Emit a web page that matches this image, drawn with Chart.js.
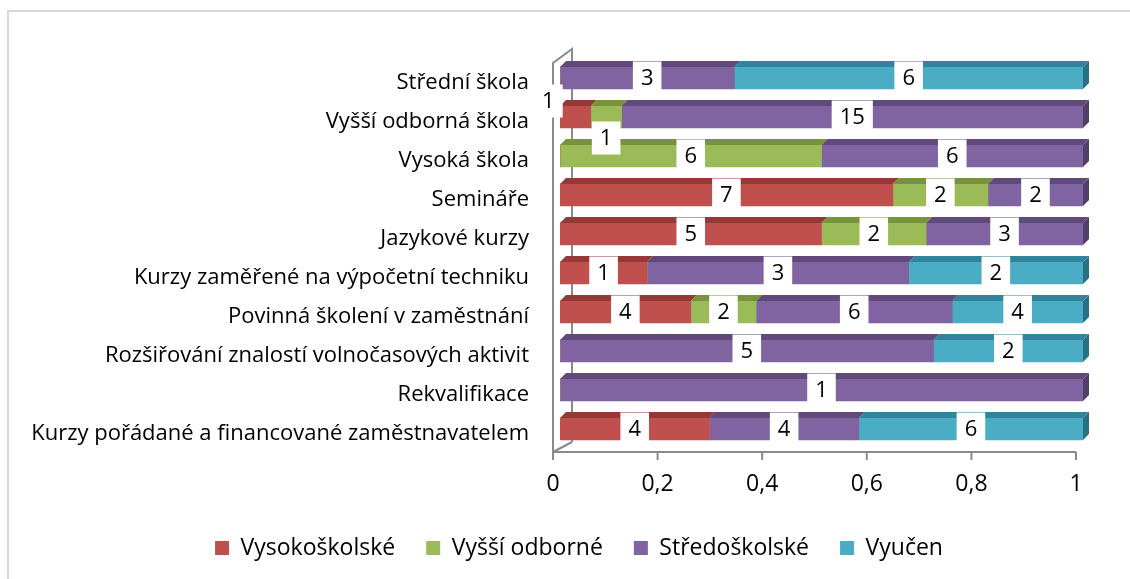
<!DOCTYPE html>
<html>
<head>
<meta charset="utf-8">
<script src="https://cdn.jsdelivr.net/npm/chart.js@4"></script>
<style>
  html, body { margin: 0; padding: 0; background: #fff; }
  #wrap { width: 1130px; height: 579px; }
</style>
</head>
<body>
<div id="wrap"><canvas id="chart-vzdelavani"></canvas></div>
<script>
const categories = [
  'Střední škola',
  'Vyšší odborná škola',
  'Vysoká škola',
  'Semináře',
  'Jazykové kurzy',
  'Kurzy zaměřené na výpočetní techniku',
  'Povinná školení v zaměstnání',
  'Rozšiřování znalostí volnočasových aktivit',
  'Rekvalifikace',
  'Kurzy pořádané a financované zaměstnavatelem'
]
const series_names = ['Vysokoškolské', 'Vyšší odborné', 'Středoškolské', 'Vyučen']
const vysokoskolske = [0, 1, 0, 7, 5, 1, 4, 0, 0, 4]
const vyssi_odborne = [0, 1, 6, 2, 2, 0, 2, 0, 0, 0]
const stredoskolske = [3, 15, 6, 2, 3, 3, 6, 5, 1, 4]
const vyucen = [6, 0, 0, 0, 0, 2, 4, 2, 0, 6]
const x_ticks = [0, 0.2, 0.4, 0.6, 0.8, 1]

const counts = [vysokoskolske, vyssi_odborne, stredoskolske, vyucen]
const front_colors = ['#C0504D', '#9BBB59', '#8064A2', '#4BACC6']
const top_colors = ['#953936', '#77933C', '#604A7B', '#31849B']
const side_colors = ['#7f302e', '#637c31', '#513f69', '#2a7084']

const totals = categories.map((c, i) => counts.reduce((s, arr) => s + arr[i], 0))

const FONT = "'Open Sans', sans-serif"
const DX = 6, DY = 6

// a few labels Excel moved away from their segment
const label_shift = {'0-1': [-27, -16], '1-1': [0, 21]}

const walls = {
  id: 'walls',
  afterLayout(chart) {
    // legend is centred under the whole chart, not under the plot
    chart.legend.left += 35
    chart.legend.right += 35
  },
  beforeDraw(chart) {
    const ctx = chart.ctx
    ctx.save()
    ctx.fillStyle = '#fff'
    ctx.fillRect(0, 0, chart.width, chart.height)
    ctx.strokeStyle = '#d9d9d9'
    ctx.lineWidth = 2
    ctx.strokeRect(8, 11, chart.width + 10, chart.height + 10)
    ctx.restore()
  },
  beforeDatasetsDraw(chart) {
    const ctx = chart.ctx
    const a = chart.chartArea
    const xs = chart.scales.x
    const fx = a.left - 7, bx = a.left + 12
    const fb = a.bottom + 3.5, bb = a.bottom - 6.5
    const ft = a.top + 4.5, bt = a.top - 9.5
    ctx.save()
    ctx.strokeStyle = '#8a8a8a'
    ctx.lineWidth = 2
    ctx.beginPath()
    ctx.moveTo(bx, bb); ctx.lineTo(bx, bt); ctx.lineTo(fx, ft); ctx.lineTo(fx, fb)
    ctx.lineTo(xs.getPixelForValue(1) - 7, fb)
    ctx.moveTo(fx, fb); ctx.lineTo(bx, bb)
    x_ticks.forEach(v => {
      const px = xs.getPixelForValue(v) - 7
      ctx.moveTo(px, fb); ctx.lineTo(px, fb + 8)
    })
    ctx.stroke()
    ctx.restore()
  },
  afterDatasetsDraw(chart) {
    const ctx = chart.ctx
    ctx.save()
    // top and side faces
    chart.data.datasets.forEach((ds, di) => {
      const meta = chart.getDatasetMeta(di)
      meta.data.forEach((el, i) => {
        if (counts[di][i] === 0) return
        const l = Math.min(el.base, el.x), r = Math.max(el.base, el.x)
        const t = el.y - el.height / 2, b = el.y + el.height / 2
        ctx.fillStyle = top_colors[di]
        ctx.beginPath()
        ctx.moveTo(l, t); ctx.lineTo(r, t); ctx.lineTo(r + DX, t - DY); ctx.lineTo(l + DX, t - DY)
        ctx.closePath(); ctx.fill()
        const last = counts.slice(di + 1).every(arr => arr[i] === 0)
        if (last) {
          ctx.fillStyle = side_colors[di]
          ctx.beginPath()
          ctx.moveTo(r, t); ctx.lineTo(r + DX, t - DY); ctx.lineTo(r + DX, b - DY); ctx.lineTo(r, b)
          ctx.closePath(); ctx.fill()
        }
      })
    })
    // value labels on white boxes
    ctx.font = '22px ' + FONT
    ctx.textAlign = 'center'
    ctx.textBaseline = 'middle'
    chart.data.datasets.forEach((ds, di) => {
      const meta = chart.getDatasetMeta(di)
      meta.data.forEach((el, i) => {
        const n = counts[di][i]
        if (n === 0) return
        const shift = label_shift[di + '-' + i] || [0, 0]
        const cx = (el.base + el.x) / 2 + shift[0]
        const cy = el.y + shift[1]
        const txt = String(n)
        const w = ctx.measureText(txt).width + 16
        ctx.fillStyle = '#fff'
        ctx.fillRect(cx - w / 2, cy - 16.5, w, 33)
        ctx.fillStyle = '#000'
        ctx.fillText(txt, cx, cy + 1)
      })
    })
    ctx.restore()
  }
}

const chart = new Chart(document.getElementById('chart-vzdelavani'), {
  type: 'bar',
  data: {
    labels: categories,
    datasets: counts.map((arr, di) => ({
      label: series_names[di],
      data: arr.map((v, i) => v / totals[i]),
      backgroundColor: front_colors[di],
      borderWidth: 0,
      barThickness: 22
    }))
  },
  options: {
    indexAxis: 'y',
    responsive: true,
    maintainAspectRatio: false,
    animation: false,
    layout: {
      padding: {top: 58.5, right: 47, bottom: 9.5, left: 5}
    },
    plugins: {
      legend: {
        position: 'bottom',
        labels: {
          boxWidth: 14,
          boxHeight: 14,
          padding: 31,
          color: '#000',
          font: {family: FONT, size: 23}
        }
      },
      tooltip: {enabled: false}
    },
    scales: {
      x: {
        stacked: true,
        min: 0,
        max: 1,
        grid: {display: false, drawTicks: false},
        border: {display: false},
        ticks: {
          stepSize: 0.2,
          padding: 22,
          labelOffset: -7,
          color: '#000',
          font: {family: FONT, size: 23},
          callback: v => String(+v.toFixed(1)).replace('.', ',')
        },
        afterFit: scale => { scale.height = 57 }
      },
      y: {
        stacked: true,
        grid: {display: false, drawTicks: false},
        border: {display: false},
        ticks: {
          padding: 31,
          labelOffset: 5,
          color: '#000',
          font: {family: FONT, size: 22}
        },
        afterFit: scale => { scale.width = 555 }
      }
    }
  },
  plugins: [walls]
})
</script>
</body>
</html>
